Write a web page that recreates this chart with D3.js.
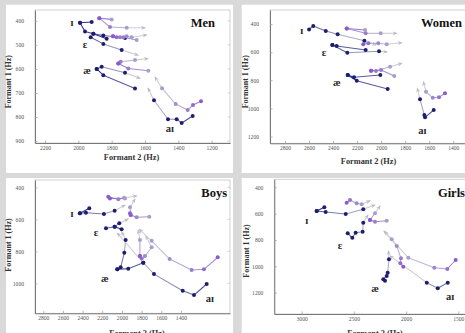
<!DOCTYPE html>
<html>
<head>
<meta charset="utf-8">
<script src="https://cdn.jsdelivr.net/npm/d3@7"></script>
<style>
  html, body { margin: 0; padding: 0; background: #d9d9d9; }
  svg { display: block; }
</style>
</head>
<body>
<svg id="chart" width="465" height="333"></svg>
<script>
// axis ticks and extents (Hz)
const MEN_X_TICKS = [2200, 2000, 1800, 1600, 1400, 1200];
const MEN_Y_TICKS = [400, 500, 600, 700, 800, 900];
const MEN_X_DOMAIN = [2260, 1090];
const MEN_Y_DOMAIN = [355, 908];

const WOMEN_X_TICKS = [2800, 2600, 2400, 2200, 2000, 1800, 1600, 1400];
const WOMEN_Y_TICKS = [400, 600, 800, 1000, 1200];
const WOMEN_X_DOMAIN = [2925, 1261];
const WOMEN_Y_DOMAIN = [300, 1249];

const BOYS_X_TICKS = [2800, 2600, 2400, 2200, 2000, 1800, 1600, 1400];
const BOYS_Y_TICKS = [400, 600, 800, 1000];
const BOYS_X_DOMAIN = [2884, 901];
const BOYS_Y_DOMAIN = [354, 1187];

const GIRLS_X_TICKS = [3000, 2500, 2000, 1500];
const GIRLS_Y_TICKS = [400, 600, 800, 1000, 1200];
const GIRLS_X_DOMAIN = [3262, 1388];
const GIRLS_Y_DOMAIN = [339, 1362];

// formant trajectories: [F2, F1] points, optional arrow tip
const MEN_TRACKS = [
  { g: "navy", pts: [[1990, 408], [1920, 405]] },
  { g: "navy", pts: [[1990, 408], [1960, 444], [1910, 454], [1850, 461], [1720, 471]] },
  { g: "navy", pts: [[1910, 454], [1830, 475]] },
  { g: "navy", pts: [[1926, 468], [1850, 496], [1740, 521]], tip: [1642, 543] },
  { g: "lilac", pts: [[1874, 389], [1800, 394]] },
  { g: "lilac", pts: [[1874, 389], [1810, 426], [1710, 429]], tip: [1600, 429] },
  { g: "lilac", pts: [[1792, 464], [1770, 468], [1750, 468], [1710, 464], [1680, 468]], tip: [1590, 459] },
  { g: "lilac", pts: [[1792, 464], [1730, 468], [1650, 480]] },
  { g: "navy", pts: [[1890, 600], [1860, 591], [1720, 616]], tip: [1630, 639] },
  { g: "navy", pts: [[1890, 600], [1850, 626], [1660, 681]] },
  { g: "lilac", pts: [[1760, 577], [1746, 570], [1660, 563]], tip: [1582, 557] },
  { g: "lilac", pts: [[1760, 577], [1700, 598], [1580, 608]] },
  { g: "navy", pts: [[1314, 796], [1380, 825], [1410, 809], [1462, 809], [1546, 730]], tip: [1582, 680] },
  { g: "lilac", pts: [[1264, 734], [1312, 750], [1344, 771], [1416, 746], [1498, 680]], tip: [1540, 634] },
];

const WOMEN_TRACKS = [
  { g: "navy", pts: [[2600, 438], [2565, 414], [2461, 450], [2362, 473], [2140, 519]], tip: [2043, 549] },
  { g: "lilac", pts: [[2287, 431], [2134, 443]] },
  { g: "lilac", pts: [[2287, 431], [2129, 466], [2004, 466]], tip: [1871, 466] },
  { g: "navy", pts: [[2406, 549], [2370, 557], [2129, 585]] },
  { g: "navy", pts: [[2406, 549], [2282, 604], [2018, 594]], tip: [1951, 599] },
  { g: "lilac", pts: [[2149, 544], [2107, 537], [2024, 537], [1954, 544]], tip: [1829, 533] },
  { g: "navy", pts: [[2278, 763], [2226, 779], [2007, 763]] },
  { g: "navy", pts: [[2278, 763], [2203, 804], [1946, 863]] },
  { g: "lilac", pts: [[2084, 732], [2043, 734], [1926, 704]], tip: [1829, 680] },
  { g: "lilac", pts: [[2084, 732], [2001, 727], [1891, 770]] },
  { g: "navy", pts: [[1563, 1012], [1635, 1064], [1641, 1048], [1677, 936]], tip: [1699, 858] },
  { g: "lilac", pts: [[1469, 893], [1519, 922], [1571, 925], [1627, 882]], tip: [1649, 811] },
];

const BOYS_TRACKS = [
  { g: "navy", pts: [[2427, 562], [2332, 531]] },
  { g: "navy", pts: [[2427, 562], [2366, 559], [2183, 567], [2074, 546]], tip: [1969, 511] },
  { g: "navy", pts: [[2162, 656], [2074, 646], [2027, 625]], tip: [1936, 598] },
  { g: "navy", pts: [[2074, 646], [2003, 662]] },
  { g: "lilac", pts: [[2139, 459], [2037, 475], [1979, 465]], tip: [1850, 454] },
  { g: "lilac", pts: [[2122, 469], [1969, 469]] },
  { g: "lilac", pts: [[1918, 562], [1911, 573], [1850, 587], [1722, 584]] },
  { g: "lilac", pts: [[1911, 573], [1918, 525]], tip: [1867, 473] },
  { g: "navy", pts: [[2047, 912], [2013, 900], [1976, 809], [1962, 729]], tip: [2000, 679] },
  { g: "navy", pts: [[2047, 912], [1936, 909], [1783, 871]] },
  { g: "lilac", pts: [[1817, 829], [1799, 844], [1766, 829], [1698, 775]], tip: [1756, 704] },
  { g: "lilac", pts: [[1817, 829], [1817, 729]], tip: [1834, 667] },
  { g: "navy", pts: [[1138, 1004], [1267, 1073], [1382, 1046], [1674, 942], [1783, 871]], tip: [2047, 686] },
  { g: "lilac", pts: [[1026, 837], [1166, 912], [1291, 917], [1515, 848], [1698, 734]], tip: [1824, 662] },
];

const GIRLS_TRACKS = [
  { g: "navy", pts: [[2856, 580], [2783, 552]] },
  { g: "navy", pts: [[2856, 580], [2770, 587], [2578, 603], [2410, 567]], tip: [2298, 534] },
  { g: "navy", pts: [[2559, 749], [2515, 783], [2483, 745], [2416, 737], [2410, 669]], tip: [2365, 610] },
  { g: "lilac", pts: [[2569, 517], [2537, 496], [2473, 521], [2425, 529]], tip: [2346, 502] },
  { g: "lilac", pts: [[2346, 648], [2298, 661], [2186, 654]] },
  { g: "lilac", pts: [[2346, 648], [2298, 597]], tip: [2250, 542] },
  { g: "navy", pts: [[2202, 1109], [2218, 1098], [2186, 1073], [2176, 1048], [2164, 946]], tip: [2168, 884] },
  { g: "lilac", pts: [[2027, 1003], [2055, 977], [2049, 939], [2090, 846], [2138, 795]], tip: [2202, 739] },
  { g: "navy", pts: [[1601, 1124], [1697, 1167], [1802, 1124]], tip: [2154, 921] },
  { g: "lilac", pts: [[1525, 952], [1605, 1020], [1730, 1010], [1979, 934]], tip: [2212, 732] },
];

// vowel labels anchored at [F2, F1]
const MEN_LABELS = [["ɪ", 2038, 408], ["ɛ", 1960, 497], ["æ", 1948, 605], ["aɪ", 1450, 846]];
const WOMEN_LABELS = [["ɪ", 2661, 448], ["ɛ", 2476, 599], ["æ", 2370, 813], ["aɪ", 1658, 1154]];
const BOYS_LABELS = [["ɪ", 2508, 561], ["ɛ", 2264, 679], ["æ", 2173, 967], ["aɪ", 1105, 1092]];
const GIRLS_LABELS = [["ɪ", 2952, 648], ["ɛ", 2633, 838], ["æ", 2298, 1167], ["aɪ", 1579, 1230]];

const SERIF = "'Liberation Serif', 'DejaVu Serif', serif";
const NAVY_POINT = "#1e1e70";
const NAVY_LINE = d3.interpolateRgb("#2e2e8c", "#cacad3");
const LILAC_LINE = d3.interpolateRgb("#9474d0", "#d0ccda");
const LILAC_POINT = d3.interpolateRgb("#8a5bcc", "#a79fcb");
const ARROW_COLOR = "#bcbcc6";

const PANELS = [
  {
    name: "Men", tracks: MEN_TRACKS, labels: MEN_LABELS,
    xTicks: MEN_X_TICKS, yTicks: MEN_Y_TICKS, xDomain: MEN_X_DOMAIN, yDomain: MEN_Y_DOMAIN,
    card: [6, 4.7, 233, 173], plot: [35, 10, 230, 143],
    title: [215, 26.5], xTitle: [131.5, 160], yTitle: [11, 81.7],
  },
  {
    name: "Women", tracks: WOMEN_TRACKS, labels: WOMEN_LABELS,
    xTicks: WOMEN_X_TICKS, yTicks: WOMEN_Y_TICKS, xDomain: WOMEN_X_DOMAIN, yDomain: WOMEN_Y_DOMAIN,
    card: [241.7, 4.7, 475, 173], plot: [270, 10, 470, 143.3],
    title: [462, 27], xTitle: [368.5, 164], yTitle: [248, 81.7],
  },
  {
    name: "Boys", tracks: BOYS_TRACKS, labels: BOYS_LABELS,
    xTicks: BOYS_X_TICKS, yTicks: BOYS_Y_TICKS, xDomain: BOYS_X_DOMAIN, yDomain: BOYS_Y_DOMAIN,
    card: [6, 178, 233, 345], plot: [35, 180, 230, 313.3],
    title: [227, 197], xTitle: [137, 335.5], yTitle: [11, 245],
  },
  {
    name: "Girls", tracks: GIRLS_TRACKS, labels: GIRLS_LABELS,
    xTicks: GIRLS_X_TICKS, yTicks: GIRLS_Y_TICKS, xDomain: GIRLS_X_DOMAIN, yDomain: GIRLS_Y_DOMAIN,
    card: [241.7, 178, 475, 345], plot: [274.3, 179.3, 470, 314],
    title: [465, 197], xTitle: [375, 336], yTitle: [249, 251],
  },
];

const svg = d3.select("#chart");

svg.append("defs")
  .append("marker")
  .attr("id", "arrowhead")
  .attr("viewBox", "0 -5 10 10")
  .attr("refX", 8)
  .attr("refY", 0)
  .attr("orient", "auto")
  .attr("markerUnits", "userSpaceOnUse")
  .attr("markerWidth", 5)
  .attr("markerHeight", 5)
  .append("path")
  .attr("d", "M 0,-4 L 10,0 L 0,4 L 3,0 Z")
  .attr("fill", ARROW_COLOR);

PANELS.forEach(drawPanel);

function drawPanel(panel) {
  const [cx0, cy0, cx1, cy1] = panel.card;
  const [px0, py0, px1, py1] = panel.plot;
  const g = svg.append("g").attr("class", `panel-${panel.name.toLowerCase()}`);

  g.append("rect")
    .attr("x", cx0).attr("y", cy0)
    .attr("width", cx1 - cx0).attr("height", cy1 - cy0)
    .attr("fill", "#fff");

  const x = d3.scaleLinear().domain(panel.xDomain).range([px0, px1]);
  const y = d3.scaleLinear().domain(panel.yDomain).range([py0, py1]);

  // light frame with mirrored ticks on the right
  g.append("rect")
    .attr("x", px0).attr("y", py0)
    .attr("width", px1 - px0).attr("height", py1 - py0)
    .attr("fill", "none")
    .attr("stroke", "#c6c6c6")
    .attr("stroke-width", 0.8);

  g.append("g")
    .selectAll("line")
    .data(panel.yTicks)
    .join("line")
    .attr("x1", px1).attr("x2", px1 - 2.5)
    .attr("y1", (d) => y(d)).attr("y2", (d) => y(d))
    .attr("stroke", "#c6c6c6").attr("stroke-width", 0.8);

  const xAxis = g.append("g")
    .attr("transform", `translate(0,${py1})`)
    .call(d3.axisBottom(x).tickValues(panel.xTicks).tickSizeInner(-2.5).tickSizeOuter(0).tickPadding(3.2).tickFormat(d3.format("d")));

  const yAxis = g.append("g")
    .attr("transform", `translate(${px0},0)`)
    .call(d3.axisLeft(y).tickValues(panel.yTicks).tickSizeInner(-2.5).tickSizeOuter(0).tickPadding(11).tickFormat(d3.format("d")));

  [xAxis, yAxis].forEach((axis) => {
    axis.select(".domain").attr("stroke", "#6a6a6a").attr("stroke-width", 0.9);
    axis.selectAll(".tick line").attr("stroke", "#9a9a9a").attr("stroke-width", 0.7);
    axis.selectAll(".tick text")
      .attr("fill", "#555")
      .attr("font-family", SERIF)
      .attr("font-size", "5.6px");
  });

  // trajectories
  const segs = [];
  const dots = [];
  panel.tracks.forEach((track) => {
    const ends = track.tip ? track.pts.concat([track.tip]) : track.pts;
    const count = ends.length - 1;
    for (let i = 0; i < count; i++) {
      const t = track.tip ? (i + 1) / count : (i / Math.max(count, 1)) * 0.55;
      segs.push({
        a: ends[i], b: ends[i + 1],
        color: (track.g === "navy" ? NAVY_LINE : LILAC_LINE)(t),
        arrow: track.tip && i === count - 1,
      });
    }
    track.pts.forEach((p, i) => {
      const t = track.pts.length > 1 ? i / (track.pts.length - 1) : 0;
      dots.push({ p, color: track.g === "navy" ? NAVY_POINT : LILAC_POINT(t) });
    });
  });

  g.append("g")
    .selectAll("line")
    .data(segs)
    .join("line")
    .attr("x1", (d) => x(d.a[0])).attr("y1", (d) => y(d.a[1]))
    .attr("x2", (d) => x(d.b[0])).attr("y2", (d) => y(d.b[1]))
    .attr("stroke", (d) => d.color)
    .attr("stroke-width", 1.05)
    .attr("marker-end", (d) => (d.arrow ? "url(#arrowhead)" : null));

  g.append("g")
    .selectAll("circle")
    .data(dots)
    .join("circle")
    .attr("cx", (d) => x(d.p[0]))
    .attr("cy", (d) => y(d.p[1]))
    .attr("r", 2)
    .attr("fill", (d) => d.color);

  g.append("g")
    .selectAll("text")
    .data(panel.labels)
    .join("text")
    .attr("x", (d) => x(d[1]))
    .attr("y", (d) => y(d[2]))
    .attr("dy", "0.35em")
    .attr("text-anchor", "middle")
    .attr("font-family", SERIF)
    .attr("font-weight", "bold")
    .attr("font-size", "10.5px")
    .attr("fill", "#2a2a2a")
    .text((d) => d[0]);

  g.append("text")
    .attr("x", panel.title[0]).attr("y", panel.title[1])
    .attr("text-anchor", "end")
    .attr("font-family", SERIF)
    .attr("font-weight", "bold")
    .attr("font-size", "12.5px")
    .attr("fill", "#111")
    .text(panel.name);

  g.append("text")
    .attr("x", panel.xTitle[0]).attr("y", panel.xTitle[1])
    .attr("text-anchor", "middle")
    .attr("font-family", SERIF)
    .attr("font-weight", "bold")
    .attr("font-size", "8.3px")
    .attr("fill", "#333")
    .text("Formant 2 (Hz)");

  g.append("text")
    .attr("transform", `translate(${panel.yTitle[0]},${panel.yTitle[1]}) rotate(-90)`)
    .attr("text-anchor", "middle")
    .attr("font-family", SERIF)
    .attr("font-weight", "bold")
    .attr("font-size", "8px")
    .attr("fill", "#333")
    .text("Formant 1 (Hz)");
}
</script>
</body>
</html>
